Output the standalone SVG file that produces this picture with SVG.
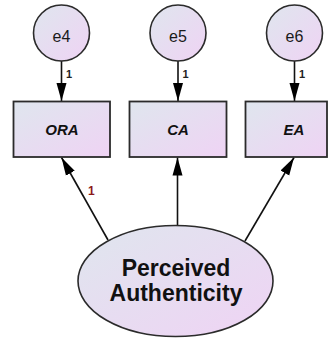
<svg xmlns="http://www.w3.org/2000/svg" width="332" height="338" viewBox="0 0 332 338">
<defs>
<linearGradient id="g" x1="0" y1="0" x2="1" y2="1">
<stop offset="0" stop-color="#dfe6ee"/>
<stop offset="1" stop-color="#efd3f4"/>
</linearGradient>
<marker id="ah" markerUnits="userSpaceOnUse" markerWidth="19" markerHeight="11" refX="18" refY="5.5" orient="auto">
<path d="M0,0.5 L18,5.5 L0,10.5 z" fill="#000"/>
</marker>
<style>
.shape{fill:url(#g);stroke:#2b2b2b;stroke-width:1.8}
.lat{fill:url(#g);stroke:#2b2b2b;stroke-width:1.6}
.err{font-family:"Liberation Sans",Arial,sans-serif;font-size:16px;fill:#1a1a1a;text-anchor:middle}
.obs{font-family:"Liberation Sans",Arial,sans-serif;font-size:15px;font-weight:bold;font-style:italic;fill:#111;text-anchor:middle}
.big{font-family:"Liberation Sans",Arial,sans-serif;font-size:23px;font-weight:bold;fill:#111;text-anchor:middle}
.w{font-family:"Liberation Sans",Arial,sans-serif;font-size:11px;font-weight:bold;fill:#222}
.wr{font-family:"Liberation Sans",Arial,sans-serif;font-size:12px;font-weight:bold;fill:#8b1a1a}
.c{stroke:#111;stroke-width:1.6;fill:none;marker-end:url(#ah)}
</style>
</defs>
<g id="connectors">
<line class="c" x1="61.5" y1="61" x2="61.5" y2="101"/>
<line class="c" x1="178" y1="61" x2="178" y2="101"/>
<line class="c" x1="294.5" y1="61" x2="294.5" y2="101"/>
<line class="c" x1="108" y1="240" x2="61.5" y2="157.5"/>
<line class="c" x1="177.5" y1="225" x2="177.5" y2="157.5"/>
<line class="c" x1="245" y1="241" x2="294" y2="157.5"/>
<text class="w" x="66" y="78">1</text>
<text class="w" x="182.5" y="78">1</text>
<text class="w" x="299" y="78">1</text>
<text class="wr" x="88" y="195">1</text>
</g>
<g id="e4">
<circle class="lat" cx="61.5" cy="33" r="28"/>
<text class="err" x="61.5" y="41.5">e4</text>
</g>
<g id="e5">
<circle class="lat" cx="178" cy="33" r="28"/>
<text class="err" x="178" y="41.5">e5</text>
</g>
<g id="e6">
<circle class="lat" cx="294.5" cy="33" r="28"/>
<text class="err" x="294.5" y="41.5">e6</text>
</g>
<g id="ORA">
<rect class="shape" x="13.5" y="101.5" width="96.5" height="55.5"/>
<text class="obs" x="62" y="135">ORA</text>
</g>
<g id="CA">
<rect class="shape" x="129.5" y="101.5" width="97" height="55.5"/>
<text class="obs" x="178" y="135">CA</text>
</g>
<g id="EA">
<rect class="shape" x="245.5" y="101.5" width="81.5" height="55.5"/>
<text class="obs" x="294" y="135">EA</text>
</g>
<g id="PerceivedAuthenticity">
<ellipse class="lat" cx="175.5" cy="281" rx="97.5" ry="55.5"/>
<text class="big" x="176" y="276">Perceived</text>
<text class="big" x="176" y="301">Authenticity</text>
</g>
</svg>
